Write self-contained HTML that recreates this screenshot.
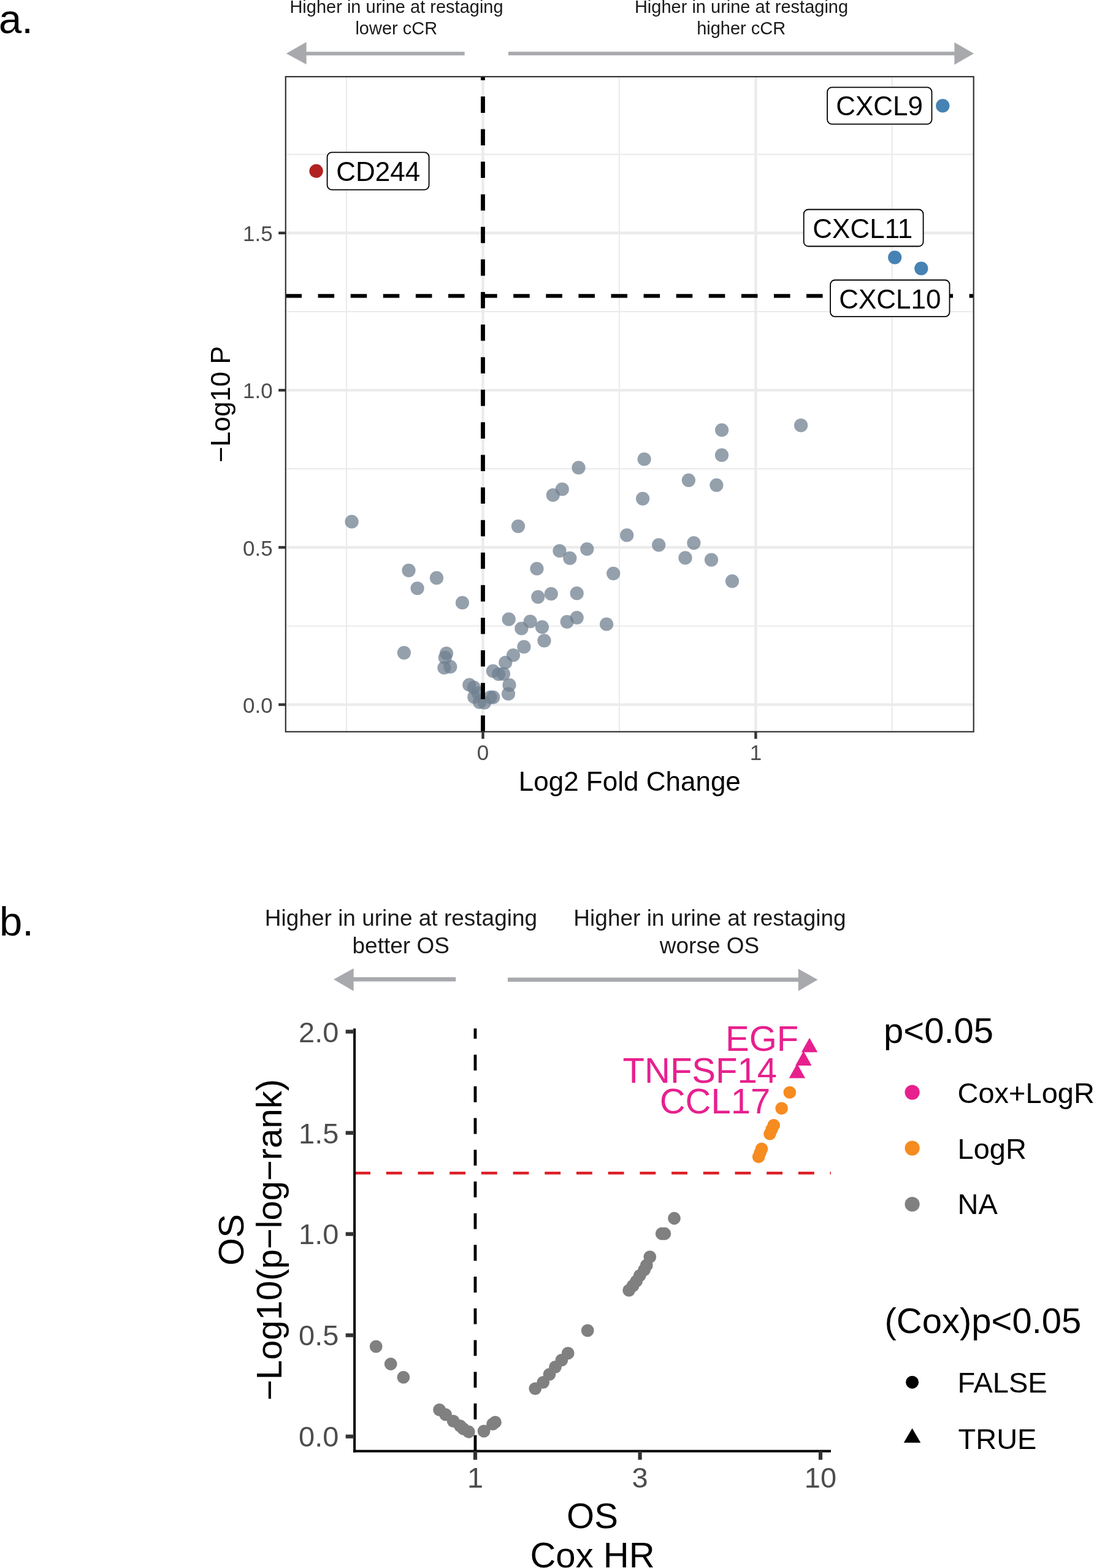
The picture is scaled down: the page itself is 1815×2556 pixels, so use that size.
<!DOCTYPE html>
<html><head><meta charset="utf-8"><title>Figure</title>
<style>html,body{margin:0;padding:0;background:#fff;}svg{display:block;}</style></head>
<body><svg width="1815" height="2556" viewBox="0 0 1815 2556" font-family="'Liberation Sans', Arial, Helvetica, sans-serif">
<rect x="0" y="0" width="1815" height="2556" fill="#ffffff"/>
<line x1="565.0" y1="125.0" x2="565.0" y2="1192.8" stroke="#ebebeb" stroke-width="2.2"/>
<line x1="1010.0" y1="125.0" x2="1010.0" y2="1192.8" stroke="#ebebeb" stroke-width="2.2"/>
<line x1="1454.8" y1="125.0" x2="1454.8" y2="1192.8" stroke="#ebebeb" stroke-width="2.2"/>
<line x1="465.8" y1="1020.5" x2="1587.7" y2="1020.5" stroke="#ebebeb" stroke-width="2.2"/>
<line x1="465.8" y1="764.2" x2="1587.7" y2="764.2" stroke="#ebebeb" stroke-width="2.2"/>
<line x1="465.8" y1="508.0" x2="1587.7" y2="508.0" stroke="#ebebeb" stroke-width="2.2"/>
<line x1="465.8" y1="251.7" x2="1587.7" y2="251.7" stroke="#ebebeb" stroke-width="2.2"/>
<line x1="787.5" y1="125.0" x2="787.5" y2="1192.8" stroke="#ebebeb" stroke-width="4.4"/>
<line x1="1232.4" y1="125.0" x2="1232.4" y2="1192.8" stroke="#ebebeb" stroke-width="4.4"/>
<line x1="465.8" y1="1148.6" x2="1587.7" y2="1148.6" stroke="#ebebeb" stroke-width="4.4"/>
<line x1="465.8" y1="892.3" x2="1587.7" y2="892.3" stroke="#ebebeb" stroke-width="4.4"/>
<line x1="465.8" y1="636.1" x2="1587.7" y2="636.1" stroke="#ebebeb" stroke-width="4.4"/>
<line x1="465.8" y1="379.8" x2="1587.7" y2="379.8" stroke="#ebebeb" stroke-width="4.4"/>
<circle cx="573.6" cy="850.4" r="11.1" fill="#708090" fill-opacity="0.75"/>
<circle cx="666.5" cy="929.8" r="11.1" fill="#708090" fill-opacity="0.75"/>
<circle cx="712.0" cy="942.2" r="11.1" fill="#708090" fill-opacity="0.75"/>
<circle cx="680.6" cy="959.0" r="11.1" fill="#708090" fill-opacity="0.75"/>
<circle cx="754.0" cy="982.5" r="11.1" fill="#708090" fill-opacity="0.75"/>
<circle cx="658.9" cy="1064.1" r="11.1" fill="#708090" fill-opacity="0.75"/>
<circle cx="728.0" cy="1065.0" r="11.1" fill="#708090" fill-opacity="0.75"/>
<circle cx="725.8" cy="1071.8" r="11.1" fill="#708090" fill-opacity="0.75"/>
<circle cx="724.4" cy="1088.5" r="11.1" fill="#708090" fill-opacity="0.75"/>
<circle cx="734.3" cy="1086.9" r="11.1" fill="#708090" fill-opacity="0.75"/>
<circle cx="765.3" cy="1116.4" r="11.1" fill="#708090" fill-opacity="0.75"/>
<circle cx="772.8" cy="1120.7" r="11.1" fill="#708090" fill-opacity="0.75"/>
<circle cx="773.3" cy="1136.2" r="11.1" fill="#708090" fill-opacity="0.75"/>
<circle cx="782.0" cy="1144.6" r="11.1" fill="#708090" fill-opacity="0.75"/>
<circle cx="790.0" cy="1145.5" r="11.1" fill="#708090" fill-opacity="0.75"/>
<circle cx="799.6" cy="1136.6" r="11.1" fill="#708090" fill-opacity="0.75"/>
<circle cx="804.3" cy="1136.6" r="11.1" fill="#708090" fill-opacity="0.75"/>
<circle cx="780.0" cy="1130.0" r="11.1" fill="#708090" fill-opacity="0.75"/>
<circle cx="803.9" cy="1093.8" r="11.1" fill="#708090" fill-opacity="0.75"/>
<circle cx="813.0" cy="1099.0" r="11.1" fill="#708090" fill-opacity="0.75"/>
<circle cx="821.0" cy="1098.6" r="11.1" fill="#708090" fill-opacity="0.75"/>
<circle cx="824.3" cy="1080.0" r="11.1" fill="#708090" fill-opacity="0.75"/>
<circle cx="837.0" cy="1068.0" r="11.1" fill="#708090" fill-opacity="0.75"/>
<circle cx="854.4" cy="1054.4" r="11.1" fill="#708090" fill-opacity="0.75"/>
<circle cx="830.5" cy="1116.7" r="11.1" fill="#708090" fill-opacity="0.75"/>
<circle cx="829.0" cy="1131.0" r="11.1" fill="#708090" fill-opacity="0.75"/>
<circle cx="829.7" cy="1009.4" r="11.1" fill="#708090" fill-opacity="0.75"/>
<circle cx="850.4" cy="1024.5" r="11.1" fill="#708090" fill-opacity="0.75"/>
<circle cx="864.7" cy="1013.0" r="11.1" fill="#708090" fill-opacity="0.75"/>
<circle cx="884.0" cy="1022.2" r="11.1" fill="#708090" fill-opacity="0.75"/>
<circle cx="887.5" cy="1044.3" r="11.1" fill="#708090" fill-opacity="0.75"/>
<circle cx="875.5" cy="927.0" r="11.1" fill="#708090" fill-opacity="0.75"/>
<circle cx="877.3" cy="973.1" r="11.1" fill="#708090" fill-opacity="0.75"/>
<circle cx="898.8" cy="968.0" r="11.1" fill="#708090" fill-opacity="0.75"/>
<circle cx="940.7" cy="967.2" r="11.1" fill="#708090" fill-opacity="0.75"/>
<circle cx="912.5" cy="898.0" r="11.1" fill="#708090" fill-opacity="0.75"/>
<circle cx="929.3" cy="909.9" r="11.1" fill="#708090" fill-opacity="0.75"/>
<circle cx="957.3" cy="895.0" r="11.1" fill="#708090" fill-opacity="0.75"/>
<circle cx="924.7" cy="1013.7" r="11.1" fill="#708090" fill-opacity="0.75"/>
<circle cx="940.7" cy="1006.8" r="11.1" fill="#708090" fill-opacity="0.75"/>
<circle cx="989.1" cy="1017.5" r="11.1" fill="#708090" fill-opacity="0.75"/>
<circle cx="1000.2" cy="934.8" r="11.1" fill="#708090" fill-opacity="0.75"/>
<circle cx="845.0" cy="857.8" r="11.1" fill="#708090" fill-opacity="0.75"/>
<circle cx="901.8" cy="807.0" r="11.1" fill="#708090" fill-opacity="0.75"/>
<circle cx="916.8" cy="797.5" r="11.1" fill="#708090" fill-opacity="0.75"/>
<circle cx="943.5" cy="762.3" r="11.1" fill="#708090" fill-opacity="0.75"/>
<circle cx="1022.2" cy="872.4" r="11.1" fill="#708090" fill-opacity="0.75"/>
<circle cx="1050.6" cy="748.5" r="11.1" fill="#708090" fill-opacity="0.75"/>
<circle cx="1048.1" cy="812.8" r="11.1" fill="#708090" fill-opacity="0.75"/>
<circle cx="1074.2" cy="888.3" r="11.1" fill="#708090" fill-opacity="0.75"/>
<circle cx="1122.9" cy="782.8" r="11.1" fill="#708090" fill-opacity="0.75"/>
<circle cx="1131.4" cy="885.1" r="11.1" fill="#708090" fill-opacity="0.75"/>
<circle cx="1117.5" cy="909.4" r="11.1" fill="#708090" fill-opacity="0.75"/>
<circle cx="1160.0" cy="912.6" r="11.1" fill="#708090" fill-opacity="0.75"/>
<circle cx="1168.4" cy="790.8" r="11.1" fill="#708090" fill-opacity="0.75"/>
<circle cx="1177.1" cy="701.0" r="11.1" fill="#708090" fill-opacity="0.75"/>
<circle cx="1177.0" cy="741.9" r="11.1" fill="#708090" fill-opacity="0.75"/>
<circle cx="1194.0" cy="947.3" r="11.1" fill="#708090" fill-opacity="0.75"/>
<circle cx="1306.1" cy="693.4" r="11.1" fill="#708090" fill-opacity="0.75"/>
<circle cx="515.6" cy="278.8" r="11.2" fill="#B22222"/>
<circle cx="1537.3" cy="172.4" r="11.1" fill="#4682B4"/>
<circle cx="1459.2" cy="419.6" r="11.1" fill="#4682B4"/>
<circle cx="1502.3" cy="437.7" r="11.1" fill="#4682B4"/>
<line x1="465.5" y1="482.3" x2="1587.7" y2="482.3" stroke="#000" stroke-width="6.3" stroke-dasharray="26.55 26.55"/>
<line x1="787.5" y1="1192.8" x2="787.5" y2="125.0" stroke="#000" stroke-width="6.8" stroke-dasharray="26.55 26.55"/>
<rect x="533.6" y="248.4" width="166.0" height="60.9" rx="7.5" ry="7.5" fill="#fff" stroke="#000" stroke-width="1.8"/>
<text x="548.2" y="294.9" font-size="44" fill="#000">CD244</text>
<rect x="1349.1" y="142.4" width="170.4" height="59.9" rx="7.5" ry="7.5" fill="#fff" stroke="#000" stroke-width="1.8"/>
<text x="1363.2" y="188.2" font-size="44" fill="#000">CXCL9</text>
<rect x="1310.7" y="341.5" width="194.9" height="60.0" rx="7.5" ry="7.5" fill="#fff" stroke="#000" stroke-width="1.8"/>
<text x="1325.3" y="387.6" font-size="44" fill="#000">CXCL11</text>
<rect x="1354.1" y="456.5" width="194.4" height="59.7" rx="7.5" ry="7.5" fill="#fff" stroke="#000" stroke-width="1.8"/>
<text x="1368.2" y="502.7" font-size="44" fill="#000">CXCL10</text>
<rect x="465.8" y="125.0" width="1121.9" height="1067.8" fill="none" stroke="#333333" stroke-width="2.2"/>
<line x1="454.2" y1="1148.6" x2="465.8" y2="1148.6" stroke="#333333" stroke-width="4.4"/>
<text x="444.6" y="1161.9" font-size="35" fill="#4d4d4d" text-anchor="end">0.0</text>
<line x1="454.2" y1="892.3" x2="465.8" y2="892.3" stroke="#333333" stroke-width="4.4"/>
<text x="444.6" y="905.6" font-size="35" fill="#4d4d4d" text-anchor="end">0.5</text>
<line x1="454.2" y1="636.1" x2="465.8" y2="636.1" stroke="#333333" stroke-width="4.4"/>
<text x="444.6" y="649.4" font-size="35" fill="#4d4d4d" text-anchor="end">1.0</text>
<line x1="454.2" y1="379.8" x2="465.8" y2="379.8" stroke="#333333" stroke-width="4.4"/>
<text x="444.6" y="393.1" font-size="35" fill="#4d4d4d" text-anchor="end">1.5</text>
<line x1="787.5" y1="1192.8" x2="787.5" y2="1204.4" stroke="#333333" stroke-width="4.4"/>
<text x="787.5" y="1239.2" font-size="35" fill="#4d4d4d" text-anchor="middle">0</text>
<line x1="1232.4" y1="1192.8" x2="1232.4" y2="1204.4" stroke="#333333" stroke-width="4.4"/>
<text x="1232.4" y="1239.2" font-size="35" fill="#4d4d4d" text-anchor="middle">1</text>
<text x="1026.8" y="1289.3" font-size="44" fill="#000" text-anchor="middle">Log2 Fold Change</text>
<text transform="translate(375.1 658.9) rotate(-90)" x="0" y="0" font-size="44" fill="#000" text-anchor="middle">&#8722;Log10 P</text>
<rect x="499" y="84.4" width="258.6" height="5.9" fill="#a8a9ad"/>
<polygon points="466.9,87.3 499.6,68.6 499.6,105.1" fill="#a8a9ad"/>
<rect x="829" y="84.3" width="728" height="5.9" fill="#a8a9ad"/>
<polygon points="1588,87.2 1556.4,69 1556.4,105.4" fill="#a8a9ad"/>
<text x="646.5" y="20.9" font-size="29" fill="#1a1a1a" text-anchor="middle">Higher in urine at restaging</text>
<text x="646.3" y="56.2" font-size="29" fill="#1a1a1a" text-anchor="middle">lower cCR</text>
<text x="1209" y="20.9" font-size="29" fill="#1a1a1a" text-anchor="middle">Higher in urine at restaging</text>
<text x="1208.7" y="56.2" font-size="29" fill="#1a1a1a" text-anchor="middle">higher cCR</text>
<text x="-2" y="54.1" font-size="67" fill="#000">a.</text>
<rect x="575" y="1593" width="168.3" height="6.8" fill="#a8a9ad"/>
<polygon points="544.1,1596.4 576.6,1578.5 576.6,1615.5" fill="#a8a9ad"/>
<rect x="828" y="1593.6" width="474.5" height="6.8" fill="#a8a9ad"/>
<polygon points="1333.5,1597 1301.8,1579.3 1301.8,1615.5" fill="#a8a9ad"/>
<text x="654" y="1508.8" font-size="37" fill="#1a1a1a" text-anchor="middle">Higher in urine at restaging</text>
<text x="653.7" y="1553.5" font-size="37" fill="#1a1a1a" text-anchor="middle">better OS</text>
<text x="1157.5" y="1508.8" font-size="37" fill="#1a1a1a" text-anchor="middle">Higher in urine at restaging</text>
<text x="1157" y="1553.5" font-size="37" fill="#1a1a1a" text-anchor="middle">worse OS</text>
<text x="-1" y="1525.3" font-size="67" fill="#000">b.</text>
<circle cx="613.2" cy="2194.9" r="10.4" fill="#808080"/>
<circle cx="637.2" cy="2223.5" r="10.4" fill="#808080"/>
<circle cx="657.9" cy="2245.1" r="10.4" fill="#808080"/>
<circle cx="716.6" cy="2298.1" r="10.4" fill="#808080"/>
<circle cx="726.6" cy="2305.9" r="10.4" fill="#808080"/>
<circle cx="739.2" cy="2316.6" r="10.4" fill="#808080"/>
<circle cx="750.3" cy="2324.3" r="10.4" fill="#808080"/>
<circle cx="755.5" cy="2329" r="10.4" fill="#808080"/>
<circle cx="764.3" cy="2334" r="10.4" fill="#808080"/>
<circle cx="789.1" cy="2332.8" r="10.4" fill="#808080"/>
<circle cx="803.5" cy="2321.4" r="10.4" fill="#808080"/>
<circle cx="807.5" cy="2318.4" r="10.4" fill="#808080"/>
<circle cx="872.8" cy="2263.6" r="10.4" fill="#808080"/>
<circle cx="885.7" cy="2253.3" r="10.4" fill="#808080"/>
<circle cx="896" cy="2240.3" r="10.4" fill="#808080"/>
<circle cx="905.5" cy="2228.3" r="10.4" fill="#808080"/>
<circle cx="915.9" cy="2217.1" r="10.4" fill="#808080"/>
<circle cx="926.2" cy="2205.9" r="10.4" fill="#808080"/>
<circle cx="958.2" cy="2168.9" r="10.4" fill="#808080"/>
<circle cx="1025.7" cy="2103.3" r="10.4" fill="#808080"/>
<circle cx="1032.1" cy="2095.9" r="10.4" fill="#808080"/>
<circle cx="1037.7" cy="2088.5" r="10.4" fill="#808080"/>
<circle cx="1043.2" cy="2079.3" r="10.4" fill="#808080"/>
<circle cx="1050.6" cy="2070" r="10.4" fill="#808080"/>
<circle cx="1054.3" cy="2062.7" r="10.4" fill="#808080"/>
<circle cx="1059.8" cy="2048.8" r="10.4" fill="#808080"/>
<circle cx="1079.2" cy="2011" r="10.4" fill="#808080"/>
<circle cx="1083.8" cy="2011" r="10.4" fill="#808080"/>
<circle cx="1099.5" cy="1986" r="10.4" fill="#808080"/>
<circle cx="1287.8" cy="1780.7" r="10.3" fill="#f68b1f"/>
<circle cx="1274.6" cy="1806.8" r="10.3" fill="#f68b1f"/>
<circle cx="1261.7" cy="1834.2" r="10.3" fill="#f68b1f"/>
<circle cx="1258.5" cy="1841" r="10.3" fill="#f68b1f"/>
<circle cx="1255.4" cy="1848.3" r="10.3" fill="#f68b1f"/>
<circle cx="1242" cy="1872.8" r="10.3" fill="#f68b1f"/>
<circle cx="1239.5" cy="1879.3" r="10.3" fill="#f68b1f"/>
<circle cx="1237.1" cy="1885.8" r="10.3" fill="#f68b1f"/>
<polygon points="1320.1,1691.7 1306.9,1715.3 1333.3,1715.3" fill="#e7208e"/>
<polygon points="1310.3,1713.3 1297.1,1736.9 1323.5,1736.9" fill="#e7208e"/>
<polygon points="1299.9,1733.8 1286.7,1757.4 1313.1,1757.4" fill="#e7208e"/>
<line x1="578.1" y1="1912.3" x2="1355.0" y2="1912.3" stroke="#dd1f26" stroke-width="4.6" stroke-dasharray="25.85 25.85"/>
<line x1="775" y1="2365.4" x2="775" y2="1676.4" stroke="#000" stroke-width="4.8" stroke-dasharray="25.85 25.85"/>
<text x="1183" y="1713.2" font-size="58" fill="#e7208e">EGF</text>
<text x="1015.6" y="1764.8" font-size="58" fill="#e7208e">TNFSF14</text>
<text x="1075.7" y="1815.2" font-size="58" fill="#e7208e">CCL17</text>
<line x1="578.1" y1="1676.4" x2="578.1" y2="2367.4" stroke="#000" stroke-width="4"/>
<line x1="576.1" y1="2365.4" x2="1355.0" y2="2365.4" stroke="#000" stroke-width="4"/>
<line x1="563.7" y1="2341.6" x2="578.1" y2="2341.6" stroke="#333333" stroke-width="6.2"/>
<text x="552.4" y="2358.4" font-size="47" fill="#4d4d4d" text-anchor="end">0.0</text>
<line x1="563.7" y1="2176.6" x2="578.1" y2="2176.6" stroke="#333333" stroke-width="6.2"/>
<text x="552.4" y="2193.4" font-size="47" fill="#4d4d4d" text-anchor="end">0.5</text>
<line x1="563.7" y1="2011.6" x2="578.1" y2="2011.6" stroke="#333333" stroke-width="6.2"/>
<text x="552.4" y="2028.4" font-size="47" fill="#4d4d4d" text-anchor="end">1.0</text>
<line x1="563.7" y1="1846.7" x2="578.1" y2="1846.7" stroke="#333333" stroke-width="6.2"/>
<text x="552.4" y="1863.5" font-size="47" fill="#4d4d4d" text-anchor="end">1.5</text>
<line x1="563.7" y1="1681.7" x2="578.1" y2="1681.7" stroke="#333333" stroke-width="6.2"/>
<text x="552.4" y="1698.5" font-size="47" fill="#4d4d4d" text-anchor="end">2.0</text>
<line x1="775.0" y1="2365.4" x2="775.0" y2="2379.6" stroke="#333333" stroke-width="6.2"/>
<text x="775.0" y="2425" font-size="47" fill="#4d4d4d" text-anchor="middle">1</text>
<line x1="1043.6" y1="2365.4" x2="1043.6" y2="2379.6" stroke="#333333" stroke-width="6.2"/>
<text x="1043.6" y="2425" font-size="47" fill="#4d4d4d" text-anchor="middle">3</text>
<line x1="1338.0" y1="2365.4" x2="1338.0" y2="2379.6" stroke="#333333" stroke-width="6.2"/>
<text x="1338.0" y="2425" font-size="47" fill="#4d4d4d" text-anchor="middle">10</text>
<text x="966" y="2491.3" font-size="58" fill="#000" text-anchor="middle">OS</text>
<text x="966" y="2555" font-size="58" fill="#000" text-anchor="middle">Cox HR</text>
<text transform="translate(396.7 2021) rotate(-90)" font-size="58" fill="#000" text-anchor="middle">OS</text>
<text transform="translate(458.7 2021) rotate(-90)" font-size="58" fill="#000" text-anchor="middle">&#8722;Log10(p&#8722;log&#8722;rank)</text>
<text x="1441" y="1700.3" font-size="58" fill="#000">p&lt;0.05</text>
<circle cx="1487.6" cy="1780.6" r="12.1" fill="#e7208e"/>
<text x="1561.5" y="1798.1" font-size="47" fill="#000">Cox+LogR</text>
<circle cx="1487.6" cy="1871.6" r="12.1" fill="#f68b1f"/>
<text x="1561.5" y="1889.3" font-size="47" fill="#000">LogR</text>
<circle cx="1487.6" cy="1963" r="12.1" fill="#808080"/>
<text x="1561.5" y="1979.3" font-size="47" fill="#000">NA</text>
<text x="1442.5" y="2172.5" font-size="58" fill="#000">(Cox)p&lt;0.05</text>
<circle cx="1487.6" cy="2253.2" r="10.5" fill="#000"/>
<text x="1561.4" y="2270.3" font-size="47" fill="#000">FALSE</text>
<polygon points="1487.6,2328.2 1473.8,2351.8 1501.3,2351.8" fill="#000"/>
<text x="1562.5" y="2361.5" font-size="47" fill="#000">TRUE</text>
</svg></body></html>
